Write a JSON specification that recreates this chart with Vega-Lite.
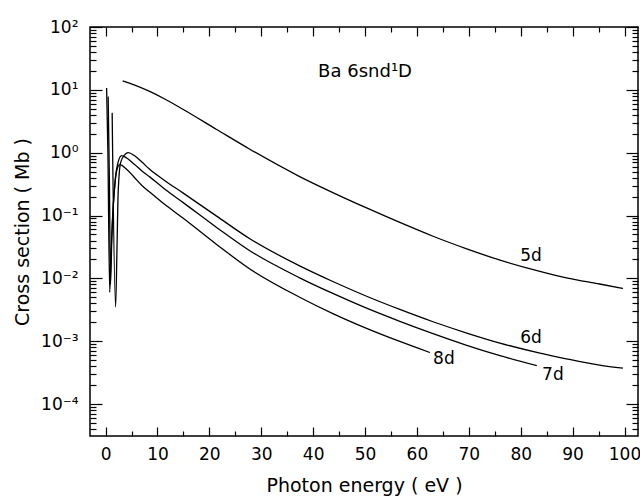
{
  "$schema": "https://vega.github.io/schema/vega-lite/v6.json",
  "width": 548,
  "height": 409,
  "autosize": {"type": "none"},
  "padding": {"left": 90, "top": 27, "right": 2, "bottom": 64},
  "background": "white",
  "config": {
    "view": {"stroke": "black", "strokeWidth": 1.5},
    "font": "DejaVu Sans",
    "axis": {
      "domain": false,
      "grid": false,
      "labelFont": "DejaVu Sans",
      "labelFontSize": 17,
      "labelColor": "black",
      "tickColor": "black",
      "tickWidth": 1.2,
      "titleColor": "black",
      "titleFont": "DejaVu Sans",
      "titleFontSize": 19,
      "titleFontWeight": "normal"
    }
  },
  "datasets": {
    "curves": [
      {"series": "5d", "x": 3.3, "y": 13.9},
      {"series": "5d", "x": 5.5, "y": 12.0},
      {"series": "5d", "x": 8.5, "y": 9.44},
      {"series": "5d", "x": 11.5, "y": 7.08},
      {"series": "5d", "x": 14.9, "y": 4.90},
      {"series": "5d", "x": 21.4, "y": 2.34},
      {"series": "5d", "x": 27.8, "y": 1.135},
      {"series": "5d", "x": 37.4, "y": 0.417},
      {"series": "5d", "x": 43.8, "y": 0.232},
      {"series": "5d", "x": 50.3, "y": 0.132},
      {"series": "5d", "x": 56.7, "y": 0.0776},
      {"series": "5d", "x": 63.1, "y": 0.0468},
      {"series": "5d", "x": 69.6, "y": 0.0295},
      {"series": "5d", "x": 76.0, "y": 0.0195},
      {"series": "5d", "x": 83.7, "y": 0.0129},
      {"series": "5d", "x": 88.8, "y": 0.0102},
      {"series": "5d", "x": 95.2, "y": 0.00813},
      {"series": "5d", "x": 99.7, "y": 0.00692},

      {"series": "6d", "x": 1.27, "y": 4.3},
      {"series": "6d", "x": 1.93, "y": 0.0035},
      {"series": "6d", "x": 2.2, "y": 0.03},
      {"series": "6d", "x": 2.43, "y": 0.232},
      {"series": "6d", "x": 2.89, "y": 0.692},
      {"series": "6d", "x": 3.72, "y": 0.933},
      {"series": "6d", "x": 4.35, "y": 1.0},
      {"series": "6d", "x": 5.6, "y": 0.891},
      {"series": "6d", "x": 7.0, "y": 0.708},
      {"series": "6d", "x": 8.5, "y": 0.543},
      {"series": "6d", "x": 11.5, "y": 0.355},
      {"series": "6d", "x": 14.9, "y": 0.229},
      {"series": "6d", "x": 21.4, "y": 0.0977},
      {"series": "6d", "x": 27.8, "y": 0.0427},
      {"series": "6d", "x": 37.4, "y": 0.0158},
      {"series": "6d", "x": 43.8, "y": 0.00891},
      {"series": "6d", "x": 50.3, "y": 0.00519},
      {"series": "6d", "x": 56.7, "y": 0.0032},
      {"series": "6d", "x": 63.1, "y": 0.00204},
      {"series": "6d", "x": 69.6, "y": 0.00135},
      {"series": "6d", "x": 76.0, "y": 0.000933},
      {"series": "6d", "x": 83.7, "y": 0.000646},
      {"series": "6d", "x": 88.8, "y": 0.000525},
      {"series": "6d", "x": 95.2, "y": 0.000417},
      {"series": "6d", "x": 99.7, "y": 0.000372},

      {"series": "7d", "x": 0.5, "y": 7.8},
      {"series": "7d", "x": 0.75, "y": 0.3},
      {"series": "7d", "x": 0.95, "y": 0.008},
      {"series": "7d", "x": 1.2, "y": 0.04},
      {"series": "7d", "x": 1.5, "y": 0.15},
      {"series": "7d", "x": 1.9, "y": 0.4},
      {"series": "7d", "x": 2.4, "y": 0.7},
      {"series": "7d", "x": 3.1, "y": 0.9},
      {"series": "7d", "x": 4.0, "y": 0.83},
      {"series": "7d", "x": 5.6, "y": 0.646},
      {"series": "7d", "x": 7.0, "y": 0.513},
      {"series": "7d", "x": 8.5, "y": 0.412},
      {"series": "7d", "x": 11.5, "y": 0.26},
      {"series": "7d", "x": 14.9, "y": 0.162},
      {"series": "7d", "x": 21.4, "y": 0.0646},
      {"series": "7d", "x": 27.8, "y": 0.0275},
      {"series": "7d", "x": 37.4, "y": 0.0102},
      {"series": "7d", "x": 43.8, "y": 0.00575},
      {"series": "7d", "x": 50.3, "y": 0.00335},
      {"series": "7d", "x": 56.7, "y": 0.00207},
      {"series": "7d", "x": 63.1, "y": 0.00132},
      {"series": "7d", "x": 69.6, "y": 0.000861},
      {"series": "7d", "x": 76.0, "y": 0.000589},
      {"series": "7d", "x": 83.1, "y": 0.000407},

      {"series": "8d", "x": 0.2, "y": 10.7},
      {"series": "8d", "x": 0.45, "y": 1.0},
      {"series": "8d", "x": 0.8, "y": 0.006},
      {"series": "8d", "x": 1.0, "y": 0.02},
      {"series": "8d", "x": 1.3, "y": 0.08},
      {"series": "8d", "x": 1.7, "y": 0.25},
      {"series": "8d", "x": 2.1, "y": 0.5},
      {"series": "8d", "x": 2.75, "y": 0.645},
      {"series": "8d", "x": 4.0, "y": 0.55},
      {"series": "8d", "x": 5.6, "y": 0.40},
      {"series": "8d", "x": 7.0, "y": 0.30},
      {"series": "8d", "x": 8.5, "y": 0.237},
      {"series": "8d", "x": 11.5, "y": 0.148},
      {"series": "8d", "x": 14.9, "y": 0.0912},
      {"series": "8d", "x": 21.4, "y": 0.0347},
      {"series": "8d", "x": 27.8, "y": 0.0141},
      {"series": "8d", "x": 37.4, "y": 0.00501},
      {"series": "8d", "x": 43.8, "y": 0.00275},
      {"series": "8d", "x": 50.3, "y": 0.0016},
      {"series": "8d", "x": 56.7, "y": 0.00099},
      {"series": "8d", "x": 62.5, "y": 0.00066}
    ],
    "curveLabels": [
      {"x": 82, "y": 0.0224, "label": "5d"},
      {"x": 82, "y": 0.00112, "label": "6d"},
      {"x": 86.2, "y": 0.00029, "label": "7d"},
      {"x": 65.2, "y": 0.00052, "label": "8d"}
    ],
    "heading": [
      {"x": 50, "y": 19, "label": "Ba 6snd¹D"}
    ]
  },
  "layer": [
    {
      "data": {"name": "curves"},
      "transform": [{"filter": "datum.series != '5d'"}],
      "mark": {"type": "line", "color": "black", "strokeWidth": 1.3, "interpolate": "monotone", "clip": true},
      "encoding": {
        "x": {
          "field": "x",
          "type": "quantitative",
          "scale": {"domain": [-3, 102.6], "nice": false, "zero": false},
          "axis": {
            "orient": "bottom",
            "title": "Photon  energy ( eV )",
            "values": [0, 10, 20, 30, 40, 50, 60, 70, 80, 90, 100],
            "tickSize": -9,
            "labelPadding": 19,
            "titlePadding": 14
          }
        },
        "y": {
          "field": "y",
          "type": "quantitative",
          "scale": {"type": "log", "domain": [3.1e-5, 100], "nice": false},
          "axis": {
            "orient": "left",
            "title": "Cross section ( Mb )",
            "values": [1e-4, 1e-3, 1e-2, 0.1, 1, 10, 100],
            "labelExpr": "['10⁻⁵','10⁻⁴','10⁻³','10⁻²','10⁻¹','10⁰','10¹','10²'][round(log(datum.value) / LN10) + 5]",
            "tickSize": -12,
            "labelPadding": 24,
            "titlePadding": 8
          }
        },
        "detail": {"field": "series"}
      }
    },
    {
      "data": {"name": "curves"},
      "transform": [{"filter": "datum.series == '5d'"}],
      "mark": {"type": "line", "color": "black", "strokeWidth": 1.3, "interpolate": "monotone", "clip": true},
      "encoding": {
        "x": {
          "field": "x",
          "type": "quantitative",
          "scale": {"domain": [-3, 102.6], "nice": false, "zero": false},
          "axis": {"orient": "top", "title": null, "labels": false, "values": [0, 10, 20, 30, 40, 50, 60, 70, 80, 90, 100], "tickSize": -9}
        },
        "y": {
          "field": "y",
          "type": "quantitative",
          "scale": {"type": "log", "domain": [3.1e-5, 100], "nice": false},
          "axis": {"orient": "right", "title": null, "labels": false, "values": [1e-4, 1e-3, 1e-2, 0.1, 1, 10, 100], "tickSize": -12}
        }
      }
    },
    {
      "data": {"name": "curveLabels"},
      "mark": {"type": "text", "fontSize": 17, "color": "black", "font": "DejaVu Sans"},
      "encoding": {
        "x": {
          "field": "x",
          "type": "quantitative",
          "scale": {"domain": [-3, 102.6], "nice": false, "zero": false},
          "axis": {"orient": "bottom", "title": null, "labels": false, "values": [5, 15, 25, 35, 45, 55, 65, 75, 85, 95], "tickSize": -5}
        },
        "y": {
          "field": "y",
          "type": "quantitative",
          "scale": {"type": "log", "domain": [3.1e-5, 100], "nice": false},
          "axis": {
            "orient": "left", "title": null, "labels": false, "tickSize": -6,
            "values": [4e-5, 5e-5, 6e-5, 7e-5, 8e-5, 9e-5,
                       2e-4, 3e-4, 4e-4, 5e-4, 6e-4, 7e-4, 8e-4, 9e-4,
                       2e-3, 3e-3, 4e-3, 5e-3, 6e-3, 7e-3, 8e-3, 9e-3,
                       2e-2, 3e-2, 4e-2, 5e-2, 6e-2, 7e-2, 8e-2, 9e-2,
                       0.2, 0.3, 0.4, 0.5, 0.6, 0.7, 0.8, 0.9,
                       2, 3, 4, 5, 6, 7, 8, 9,
                       20, 30, 40, 50, 60, 70, 80, 90]
          }
        },
        "text": {"field": "label"}
      }
    },
    {
      "data": {"name": "heading"},
      "mark": {"type": "text", "fontSize": 18, "color": "black", "font": "DejaVu Sans"},
      "encoding": {
        "x": {
          "field": "x",
          "type": "quantitative",
          "scale": {"domain": [-3, 102.6], "nice": false, "zero": false},
          "axis": {"orient": "top", "title": null, "labels": false, "values": [5, 15, 25, 35, 45, 55, 65, 75, 85, 95], "tickSize": -5}
        },
        "y": {
          "field": "y",
          "type": "quantitative",
          "scale": {"type": "log", "domain": [3.1e-5, 100], "nice": false},
          "axis": {
            "orient": "right", "title": null, "labels": false, "tickSize": -6,
            "values": [4e-5, 5e-5, 6e-5, 7e-5, 8e-5, 9e-5,
                       2e-4, 3e-4, 4e-4, 5e-4, 6e-4, 7e-4, 8e-4, 9e-4,
                       2e-3, 3e-3, 4e-3, 5e-3, 6e-3, 7e-3, 8e-3, 9e-3,
                       2e-2, 3e-2, 4e-2, 5e-2, 6e-2, 7e-2, 8e-2, 9e-2,
                       0.2, 0.3, 0.4, 0.5, 0.6, 0.7, 0.8, 0.9,
                       2, 3, 4, 5, 6, 7, 8, 9,
                       20, 30, 40, 50, 60, 70, 80, 90]
          }
        },
        "text": {"field": "label"}
      }
    }
  ],
  "resolve": {"axis": {"x": "independent", "y": "independent"}}
}
